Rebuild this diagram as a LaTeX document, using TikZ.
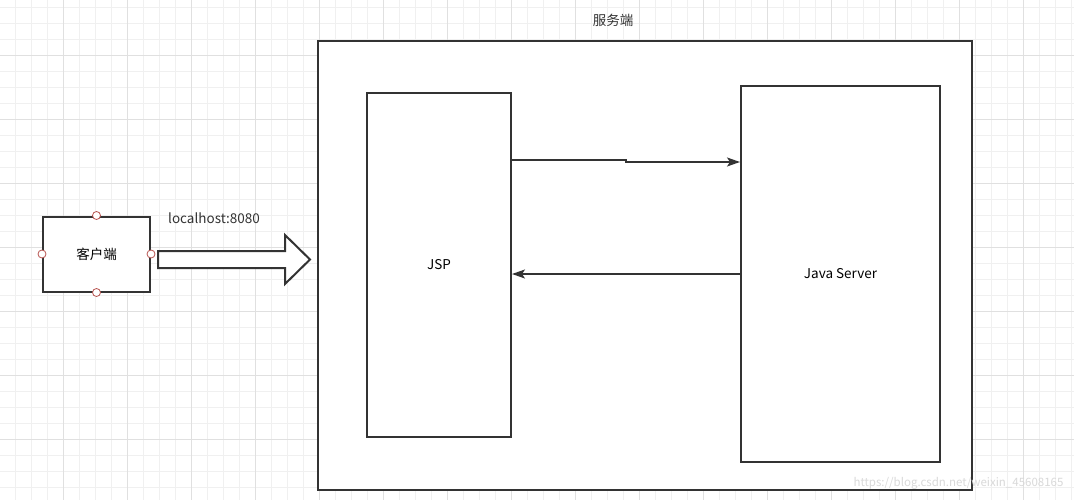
\documentclass[tikz,border=0pt]{standalone}
\usepackage{fontspec}
\setmainfont{Noto Sans CJK SC}
\usetikzlibrary{arrows.meta}
\definecolor{linegray}{HTML}{333333}
\definecolor{portred}{HTML}{B85450}

\begin{document}
\begin{tikzpicture}[
	x = 1pt, y = -1pt,
	> = {Stealth[length=13pt, width=9pt, inset=3pt]},
	font = \fontsize{13.5}{16}\selectfont,
	gridminor/.style = {draw=gray!12, line width=0.8pt},
	gridmajor/.style = {draw=gray!24, line width=0.8pt},
	box/.style = {draw=linegray, line width=2pt, fill=white, inner sep=0pt},
	port/.style = {circle, draw=portred, fill=white, line width=0.8pt,
		minimum size=8pt, inner sep=0pt},
	link/.style = {draw=linegray, line width=1.6pt},
	hollow/.style = {draw=linegray, line width=2pt, fill=white, line join=miter},
	txt/.style = {text=linegray, inner sep=1pt},
	]
	\useasboundingbox (0,0) rectangle (1074,500);
	\fill[white] (0,0) rectangle (1074,500);
	% grid
	\foreach \gx in {15.7,31.7,...,1074} \draw[gridminor] (\gx,0) -- (\gx,500);
	\foreach \gy in {7.3,23.3,...,500} \draw[gridminor] (0,\gy) -- (1074,\gy);
	\foreach \gx in {63.7,127.7,...,1074} \draw[gridmajor] (\gx,0) -- (\gx,500);
	\foreach \gy in {55.3,119.3,...,500} \draw[gridmajor] (0,\gy) -- (1074,\gy);
	% boxes
	\node[box, minimum width=654pt, minimum height=449pt] (server) at (645,265.5) {};
	\node[txt] (serverlabel) at (613,20) {服务端};
	\node[box, minimum width=144pt, minimum height=344pt] (jsp) at (439,265) {JSP};
	\node[box, minimum width=199pt, minimum height=376pt] (javasrv) at (840.5,274) {Java Server};
	\node[box, minimum width=107pt, minimum height=75pt] (client) at (96.5,254) {客户端};
	\foreach \s in {north,south,east,west}
		\node[port] (client-\s) at (client.\s) {};
	% request
	\draw[hollow] (158,251) -- (285,251) -- (285,235) -- (310,259.5)
		-- (285,284) -- (285,268) -- (158,268) -- cycle;
	\node[txt] (url) at (214,218) {localhost:8080};
	% jsp <-> server
	\draw[link,->] (jsp.east |- 0,160) -- (626,160) -- (626,162) -- (javasrv.west |- 0,162);
	\draw[link,->] (javasrv.west |- 0,274) -- (jsp.east |- 0,274);
	% watermark
	\node[text=gray!30, font=\fontsize{11.5}{12}\selectfont, anchor=east] (mark)
		at (1067,483) {https://blog.csdn.net/weixin\_45608165};
\end{tikzpicture}
\end{document}
